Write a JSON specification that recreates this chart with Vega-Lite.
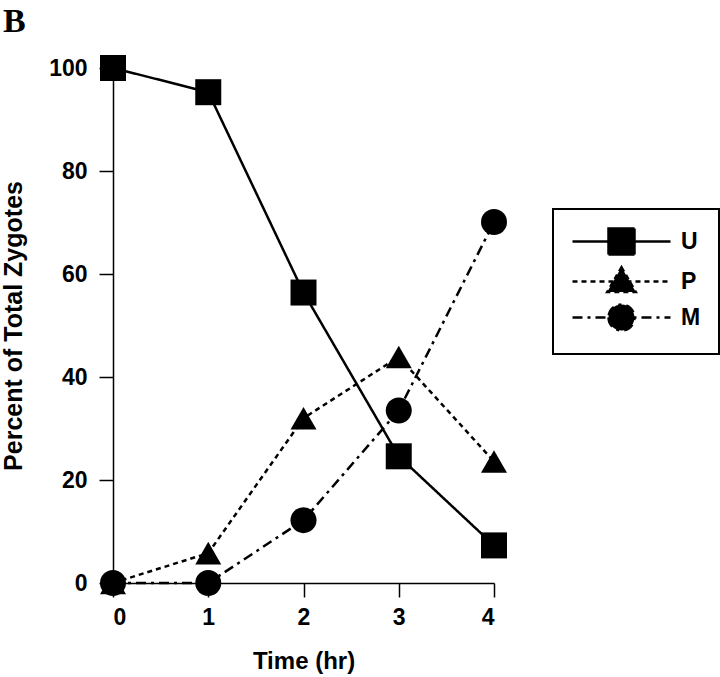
{
  "$schema": "https://vega.github.io/schema/vega-lite/v6.json",
  "width": 381,
  "height": 515,
  "autosize": {"type": "none"},
  "padding": {"left": 113, "top": 68, "right": 226, "bottom": 94},
  "background": "white",
  "title": {
    "text": "B",
    "anchor": "start",
    "frame": "group",
    "font": "Liberation Serif",
    "fontSize": 34,
    "fontWeight": "bold",
    "color": "black",
    "dx": -110,
    "offset": 16
  },
  "data": {
    "values": [
      {"time": 0, "pct": 100, "series": "U"},
      {"time": 1, "pct": 95.3, "series": "U"},
      {"time": 2, "pct": 56.4, "series": "U"},
      {"time": 3, "pct": 24.6, "series": "U"},
      {"time": 4, "pct": 7.3, "series": "U"},
      {"time": 0, "pct": 0, "series": "P"},
      {"time": 1, "pct": 5.8, "series": "P"},
      {"time": 2, "pct": 32, "series": "P"},
      {"time": 3, "pct": 43.9, "series": "P"},
      {"time": 4, "pct": 23.6, "series": "P"},
      {"time": 0, "pct": 0, "series": "M"},
      {"time": 1, "pct": 0, "series": "M"},
      {"time": 2, "pct": 12.2, "series": "M"},
      {"time": 3, "pct": 33.5, "series": "M"},
      {"time": 4, "pct": 70.1, "series": "M"}
    ]
  },
  "encoding": {
    "x": {
      "field": "time",
      "type": "quantitative",
      "scale": {"domain": [0, 4], "nice": false},
      "axis": {"values": [0, 1, 2, 3, 4], "format": "d", "title": "Time (hr)", "labelPadding": 9, "titlePadding": 20, "titleFontSize": 24}
    },
    "y": {
      "field": "pct",
      "type": "quantitative",
      "scale": {"domain": [0, 100], "nice": false},
      "axis": {"values": [0, 20, 40, 60, 80, 100], "title": "Percent of Total Zygotes", "labelPadding": 12, "titlePadding": 22, "titleFontSize": 25}
    }
  },
  "layer": [
    {
      "mark": {"type": "line", "strokeWidth": 2.5, "color": "black"},
      "encoding": {
        "strokeDash": {
          "field": "series",
          "type": "nominal",
          "scale": {"domain": ["U", "P", "M"], "range": [[1, 0], [5, 4], [10, 5, 3, 5]]},
          "legend": {
            "title": null,
            "orient": "none",
            "legendX": 440,
            "legendY": 141,
            "padding": 18,
            "strokeColor": "black",
            "fillColor": "white",
            "cornerRadius": 0,
            "symbolSize": 676,
            "symbolOffset": 36,
            "symbolStrokeColor": "black",
            "symbolFillColor": "black",
            "symbolStrokeWidth": 2.5,
            "labelFont": "Liberation Sans",
            "labelFontWeight": "bold",
            "labelFontSize": 23,
            "labelColor": "black",
            "labelOffset": 45,
            "rowPadding": 2,
            "encode": {
              "legend": {
                "update": {"strokeWidth": {"value": 2}}
              },
              "symbols": {
                "update": {
                  "shape": {"signal": "datum.value === 'U' ? 'M-3.77,0L3.77,0M-1,-1L1,-1L1,1L-1,1Z' : datum.value === 'P' ? 'M-3.77,0L3.77,0M0,-1.1L1.1,0.8L-1.1,0.8Z' : 'M-3.77,0L3.77,0M-1,0A1,1,0,1,0,1,0A1,1,0,1,0,-1,0Z'"},
                  "fill": {"value": "black"},
                  "fillOpacity": {"value": 1},
                  "stroke": {"value": "black"}
                }
              }
            }
          }
        }
      }
    },
    {
      "transform": [{"filter": "datum.series === 'U'"}],
      "mark": {"type": "point", "shape": "square", "filled": true, "opacity": 1, "size": 676, "color": "black"}
    },
    {
      "transform": [{"filter": "datum.series === 'P'"}],
      "mark": {"type": "point", "shape": "triangle-up", "filled": true, "opacity": 1, "size": 676, "color": "black"}
    },
    {
      "transform": [{"filter": "datum.series === 'M'"}],
      "mark": {"type": "point", "shape": "circle", "filled": true, "opacity": 1, "size": 676, "color": "black"}
    }
  ],
  "config": {
    "view": {"stroke": null},
    "axis": {
      "grid": false,
      "domainColor": "black",
      "domainWidth": 1.5,
      "tickColor": "black",
      "tickWidth": 1.5,
      "tickSize": 14,
      "labelFont": "Liberation Sans",
      "labelFontWeight": "bold",
      "labelFontSize": 23,
      "labelColor": "black",
      "titleFont": "Liberation Sans",
      "titleFontWeight": "bold",
      "titleColor": "black"
    }
  }
}
